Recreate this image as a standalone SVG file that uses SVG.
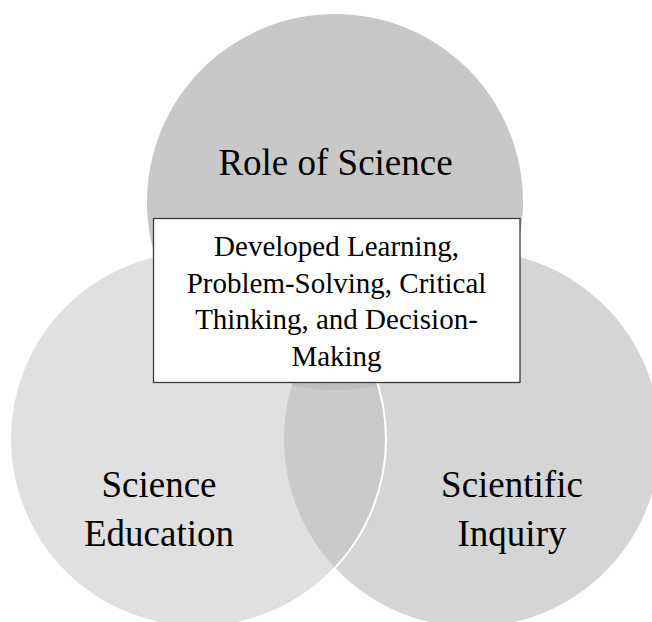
<svg xmlns="http://www.w3.org/2000/svg" width="652" height="622" viewBox="0 0 652 622">
  <style>
    .lbl { font-family: "Liberation Serif", "Times New Roman", serif; fill: #000; text-anchor: middle; }
    .big { font-size: 37px; }
    .box { font-size: 29px; }
  </style>
  <defs>
    <clipPath id="clipRight"><circle cx="472" cy="439" r="188"/></clipPath>
    <clipPath id="clipTop"><circle cx="335" cy="202" r="188"/></clipPath>
  </defs>
  <rect width="652" height="622" fill="#ffffff"/>
  <g id="top-circle">
    <circle cx="335" cy="202" r="188" fill="#c8c8c8"/>
  </g>
  <g id="right-circle">
    <circle cx="472" cy="439" r="188" fill="#d5d5d5"/>
  </g>
  <g id="left-circle">
    <circle cx="198" cy="439" r="188" fill="#e0e0e0"/>
  </g>
  <g id="overlaps">
    <circle cx="198" cy="439" r="188" fill="#cacaca" clip-path="url(#clipRight)"/>
    <g clip-path="url(#clipTop)">
      <circle cx="198" cy="439" r="188" fill="#bebebe" clip-path="url(#clipRight)"/>
    </g>
    <circle cx="198" cy="439" r="188" fill="none" stroke="#ffffff" stroke-width="2"/>
  </g>
  <g id="labels">
    <text class="lbl big" x="335.5" y="175">Role of Science</text>
    <text class="lbl big" x="159" y="496.5">Science</text>
    <text class="lbl big" x="159" y="545.5">Education</text>
    <text class="lbl big" x="512" y="496.5">Scientific</text>
    <text class="lbl big" x="512" y="545.5">Inquiry</text>
  </g>
  <g id="center-box">
    <rect x="153.5" y="218.5" width="366.5" height="164" fill="#ffffff" stroke="#3c3c3c" stroke-width="1.3"/>
    <text class="lbl box" x="336.5" y="256">Developed Learning,</text>
    <text class="lbl box" x="336.5" y="292.5">Problem-Solving, Critical</text>
    <text class="lbl box" x="336.5" y="329">Thinking, and Decision-</text>
    <text class="lbl box" x="336.5" y="365.5">Making</text>
  </g>
</svg>
